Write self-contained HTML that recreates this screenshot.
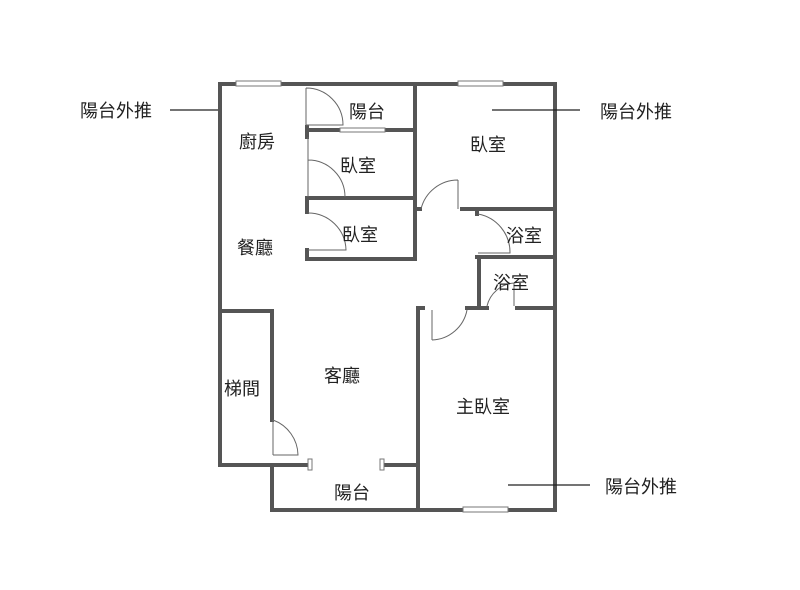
<!DOCTYPE html>
<html><head><meta charset="utf-8"><style>
html,body{margin:0;padding:0;background:#fff;}
svg{display:block}
text{font-family:"Liberation Sans","Noto Sans CJK TC",sans-serif;font-size:18px;fill:#222;}
</style></head><body>
<svg width="800" height="590" viewBox="0 0 800 590" xmlns="http://www.w3.org/2000/svg">
<g stroke="#555" stroke-width="4" fill="none" stroke-linecap="square">
<path d="M220 84 L236 84 M281 84 L458 84 M503 84 L555 84 L555 510 L508 510 M463 510 L272 510 L272 465"/>
<path d="M220 84 L220 465 L308 465 M384 465 L418 465"/>
<path d="M220 311 L272 311 L272 420"/>
<path d="M415 84 L415 259 L307 259 L307 250"/>
<path d="M307 130 L340 130 M385 130 L415 130"/>
<path d="M307 127 L307 137"/>
<path d="M307 198 L415 198 M307 198 L307 212"/>
<path d="M418 308 L418 510 M418 308 L423 308 M467 308 L487 308 M517 308 L555 308"/>
<path d="M415 209 L420 209 M462 209 L555 209"/>
<path d="M477 209 L477 214 M477 257 L555 257 M479 257 L479 308"/>
</g>
<g stroke="#777" stroke-width="1" fill="#fff">
<rect x="236" y="81" width="45" height="5"/><rect x="458" y="81" width="45" height="5"/>
<rect x="340" y="128" width="45" height="4"/><rect x="463" y="507" width="45" height="5"/>
<rect x="308" y="459" width="4" height="11"/><rect x="380" y="459" width="4" height="11"/>
</g>
<g stroke="#666" stroke-width="1" fill="none">
<path d="M306 88 L306 125 M306 88 A37 37 0 0 1 343 125 L306 125"/>
<path d="M308 137 L308 197 M308 160 A37 37 0 0 1 345 197"/>
<path d="M308 213 A38 38 0 0 1 346 250 L308 250"/>
<path d="M458 180 L458 209 M458 180 A38 38 0 0 0 421 209"/>
<path d="M478 214 A39 39 0 0 1 510 253 L478 253"/>
<path d="M487 306 A30 30 0 0 1 514 283 L514 306"/>
<path d="M432 310 L432 340 M467 310 A37 37 0 0 1 432 340"/>
<path d="M273 420 L273 455 M273 420 A38 38 0 0 1 298 455 L273 455"/>
</g>
<g stroke="#222" stroke-width="1.3">
<line x1="170" y1="110" x2="218" y2="110"/>
<line x1="492" y1="110" x2="580" y2="110"/>
<line x1="508" y1="485" x2="590" y2="485"/>
</g>
<text x="80" y="117">陽台外推</text>
<text x="600" y="118">陽台外推</text>
<text x="605" y="493">陽台外推</text>
<text x="349" y="118">陽台</text>
<text x="239" y="148">廚房</text>
<text x="340" y="172">臥室</text>
<text x="470" y="151">臥室</text>
<text x="342" y="241">臥室</text>
<text x="237" y="254">餐廳</text>
<text x="506" y="242">浴室</text>
<text x="493" y="289">浴室</text>
<text x="324" y="382">客廳</text>
<text x="224" y="395">梯間</text>
<text x="456" y="413">主臥室</text>
<text x="334" y="499">陽台</text>
</svg>
</body></html>
